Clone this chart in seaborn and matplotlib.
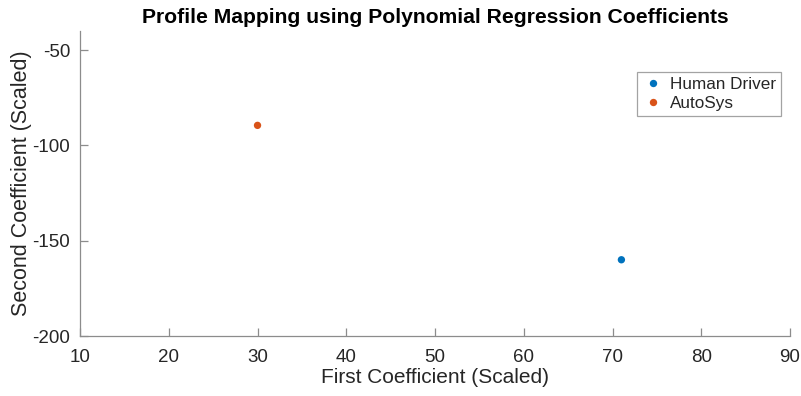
import pandas as pd
import matplotlib.pyplot as plt
import seaborn as sns

# values
profiles = ["Human Driver", "AutoSys"]
first_coef = [71, 30]
second_coef = [-160, -89.5]
palette = ["#0072BD", "#D95319"]

df = pd.DataFrame({"profile": profiles, "first": first_coef, "second": second_coef})

sns.set_style("white")
plt.rcParams['font.family'] = ['Liberation Sans', 'DejaVu Sans']
plt.rcParams['axes.unicode_minus'] = False
plt.rcParams['xtick.bottom'] = True
plt.rcParams['ytick.left'] = True

fig = plt.figure(figsize=(8.01, 3.96), dpi=100)
ax = fig.add_axes([0.0999, 0.1515, 0.8864, 0.7702])

sns.scatterplot(data=df, x="first", y="second", hue="profile", palette=palette,
                s=28, edgecolor="none", ax=ax, legend=True)

ax.set_xlim(10, 90)
ax.set_ylim(-200, -40)
ax.set_xticks(range(10, 91, 10))
ax.set_yticks([-200, -150, -100, -50])

for side in ["top", "right"]:
    ax.spines[side].set_visible(False)
for side in ["left", "bottom"]:
    ax.spines[side].set_color("#8c8c8c")
    ax.spines[side].set_linewidth(0.9)
ax.tick_params(direction="in", length=6, width=0.9, color="#8c8c8c",
               labelsize=13.5, labelcolor="#262626")
ax.tick_params(axis="x", pad=9)
ax.tick_params(axis="y", pad=7)

ax.set_xlabel("First Coefficient (Scaled)", fontsize=15, color="#262626", labelpad=2)
ax.set_ylabel("Second Coefficient (Scaled)", fontsize=15.5, color="#262626", labelpad=0)
ax.set_title("Profile Mapping using Polynomial Regression Coefficients",
             fontsize=15.2, fontweight="bold", color="black", pad=6)

leg = ax.legend(loc="upper right", bbox_to_anchor=(0.9875, 0.866), fontsize=12.3,
                frameon=True, fancybox=False, edgecolor="#8c8c8c",
                handletextpad=0.3, borderpad=0.3, labelspacing=0.25,
                markerscale=1.0, handlelength=1.35, borderaxespad=0)
leg.get_frame().set_linewidth(0.9)

fig.savefig("out.png", dpi=100)
